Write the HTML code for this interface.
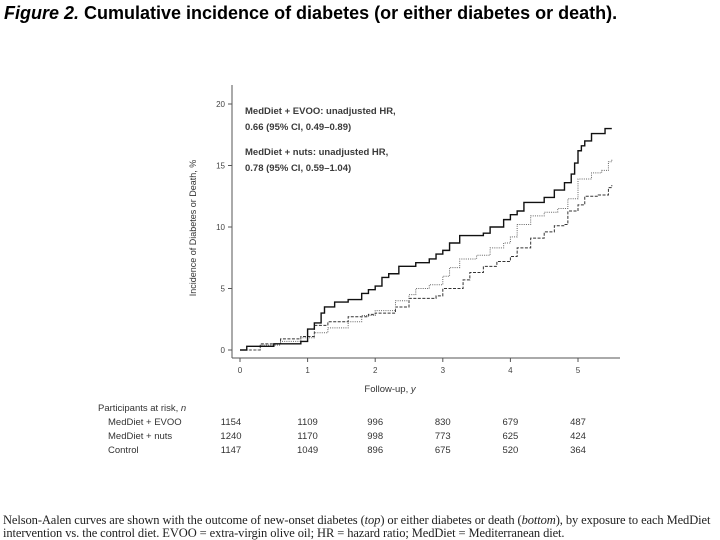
<!DOCTYPE html>
<html><head><meta charset="utf-8"><style>
body{margin:0;width:720px;height:540px;background:#fff;overflow:hidden;font-family:"Liberation Sans",sans-serif;}
#title{position:absolute;left:4px;top:3px;font-size:18px;font-weight:bold;color:#000;white-space:nowrap;}
#cap{position:absolute;left:3px;top:514px;font-family:"Liberation Serif",serif;font-size:12.5px;line-height:13px;color:#222;white-space:nowrap;letter-spacing:-0.1px;}
</style></head><body>
<div id="title"><i>Figure 2.</i> Cumulative incidence of diabetes (or either diabetes or death).</div>
<svg id="chart" width="720" height="540" style="position:absolute;left:0;top:0"></svg>
<div id="cap">Nelson-Aalen curves are shown with the outcome of new-onset diabetes (<i>top</i>) or either diabetes or death (<i>bottom</i>), by exposure to each MedDiet<br>intervention vs. the control diet. EVOO = extra-virgin olive oil; HR = hazard ratio; MedDiet = Mediterranean diet.</div>
<script>
const evooT=[0,0.1,0.5,0.9,1.0,1.1,1.2,1.25,1.4,1.6,1.8,1.9,2.0,2.1,2.2,2.35,2.6,2.8,2.9,3.0,3.1,3.25,3.6,3.7,3.9,4.0,4.1,4.2,4.5,4.65,4.8,4.9,4.95,5.0,5.05,5.1,5.2,5.4,5.5];
const evooY=[0,0.3,0.5,0.7,1.7,2.2,3.0,3.5,3.9,4.1,4.6,4.9,5.2,5.9,6.2,6.8,7.1,7.4,7.8,8.1,8.7,9.3,9.5,10.0,10.6,11.0,11.3,12.0,12.4,13.0,13.6,14.3,15.2,16.2,16.6,17.0,17.6,18.0,18.0];
const nutsT=[0,0.3,0.6,0.9,1.1,1.3,1.6,1.8,2.0,2.3,2.5,2.6,2.8,3.0,3.1,3.25,3.5,3.7,3.9,4.0,4.1,4.3,4.5,4.7,4.85,5.0,5.2,5.35,5.45,5.5];
const nutsY=[0,0.4,0.7,1.0,1.4,1.8,2.3,2.8,3.2,4.0,4.5,5.0,5.3,6.0,6.7,7.4,7.7,8.3,8.7,9.2,10.2,10.9,11.2,11.5,12.3,13.9,14.4,14.6,15.3,15.5];
const ctrlT=[0,0.3,0.6,0.9,1.1,1.3,1.6,1.9,2.0,2.3,2.5,2.9,3.0,3.3,3.4,3.6,3.8,4.0,4.1,4.3,4.5,4.65,4.8,4.85,5.0,5.1,5.3,5.45,5.5];
const ctrlY=[0,0.5,0.9,1.1,2.0,2.3,2.7,2.9,3.0,3.5,4.2,4.4,5.0,5.7,6.3,6.8,7.2,7.6,8.3,9.1,9.6,10.1,10.2,11.3,11.8,12.5,12.6,13.2,13.4];
const xTicks=[0,1,2,3,4,5];
const yTicks=[0,5,10,15,20];
const riskLabels=["MedDiet + EVOO","MedDiet + nuts","Control"];
const riskEvoo=[1154,1109,996,830,679,487];
const riskNuts=[1240,1170,998,773,625,424];
const riskCtrl=[1147,1049,896,675,520,364];

const svg=document.getElementById('chart');
const NS='http://www.w3.org/2000/svg';
const X=t=>240+t*67.6, Y=v=>350-v*12.3;
function mk(tag,a,txt){const e=document.createElementNS(NS,tag);for(const k in a)e.setAttribute(k,a[k]);if(txt!=null)e.textContent=txt;svg.appendChild(e);return e;}
const axc='#555';
let e=mk('line',{x1:232,y1:85,x2:232,y2:358,stroke:axc,'stroke-width':1});

e=mk('line',{x1:232,y1:358,x2:620,y2:358,stroke:axc,'stroke-width':1});

yTicks.forEach(v=>{
 e=mk('line',{x1:228,y1:Y(v),x2:232,y2:Y(v),stroke:axc});
 
 e=mk('text',{x:225,y:Y(v)+3,'font-size':8,fill:'#444','text-anchor':'end'},v);
 
});
xTicks.forEach(v=>{
 e=mk('line',{x1:X(v),y1:358,x2:X(v),y2:362,stroke:axc});
 
 e=mk('text',{x:X(v),y:373,'font-size':8,fill:'#444','text-anchor':'middle'},v);
 
});
e=mk('text',{x:390,y:392,'font-size':9.5,fill:'#333','text-anchor':'middle'},'Follow-up, ');

const it=document.createElementNS(NS,'tspan');it.setAttribute('font-style','italic');it.textContent='y';e.appendChild(it);
e=mk('text',{x:0,y:0,'font-size':9,fill:'#333','text-anchor':'middle',transform:'translate(196,228) rotate(-90)'},'Incidence of Diabetes or Death, %');

const ann=[['MedDiet + EVOO: unadjusted HR,',116],['0.66 (95% CI, 0.49–0.89)',132],['MedDiet + nuts: unadjusted HR,',157],['0.78 (95% CI, 0.59–1.04)',173]];
ann.forEach(a=>{e=mk('text',{x:245,y:a[1]-2,'font-size':9.5,'font-weight':'bold',fill:'#3a3a3a'},a[0]);
 });
function step(T,V){let d='M'+X(T[0])+' '+Y(V[0]);for(let i=1;i<T.length;i++){d+=' H'+X(T[i])+' V'+Y(V[i]);}return d;}
e=mk('path',{d:step(ctrlT,ctrlY),fill:'none',stroke:'#333','stroke-width':1,'stroke-dasharray':'3,1.5'});

e=mk('path',{d:step(nutsT,nutsY),fill:'none',stroke:'#666','stroke-width':1,'stroke-dasharray':'1,1.2'});

e=mk('path',{d:step(evooT,evooY),fill:'none',stroke:'#111','stroke-width':1.4});

e=mk('text',{x:98,y:411,'font-size':9.5,fill:'#333'},'Participants at risk, ');

const it2=document.createElementNS(NS,'tspan');it2.setAttribute('font-style','italic');it2.textContent='n';e.appendChild(it2);
[riskEvoo,riskNuts,riskCtrl].forEach((row,r)=>{
 const yy=425+r*14;
 e=mk('text',{x:108,y:yy,'font-size':9.5,fill:'#333'},riskLabels[r]);
 
 row.forEach((n,i)=>{
  e=mk('text',{x:i===0?231:X(xTicks[i]),y:yy,'font-size':9.5,fill:'#333','text-anchor':'middle'},n);
  
 });
});
</script>
</body></html>
